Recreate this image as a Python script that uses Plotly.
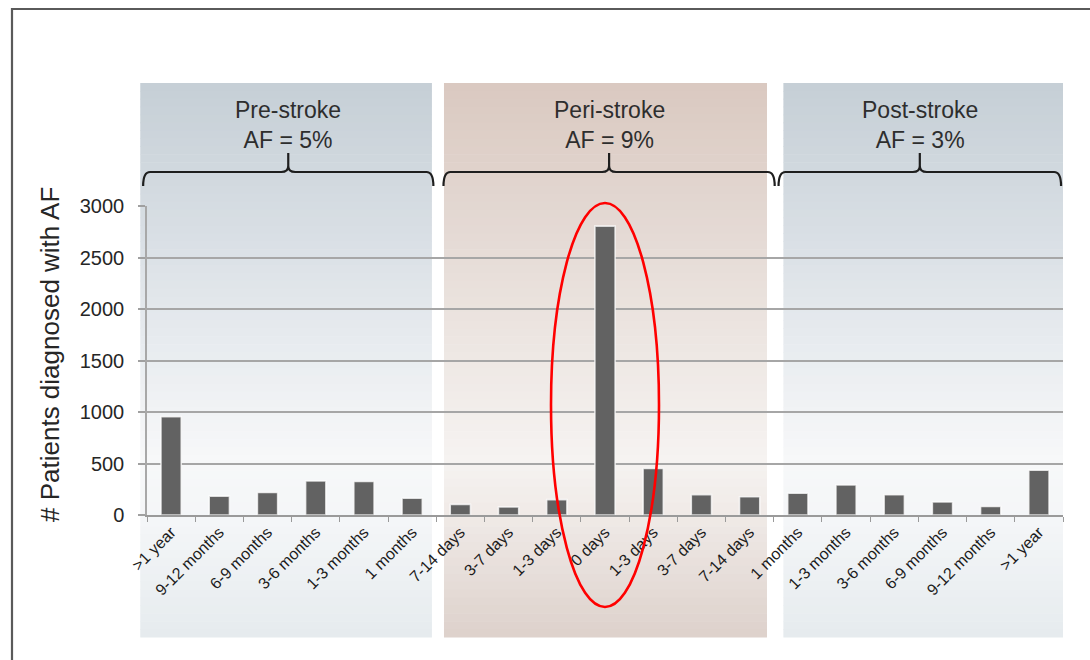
import plotly.graph_objects as go

# ---- data -------------------------------------------------------------
categories = [
    ">1 year", "9-12 months", "6-9 months", "3-6 months", "1-3 months", "1 months",
    "7-14 days", "3-7 days", "1-3 days", "0 days", "1-3 days", "3-7 days", "7-14 days",
    "1 months", "1-3 months", "3-6 months", "6-9 months", "9-12 months", ">1 year",
]
patients = [
    955, 183, 218, 330, 325, 163,
    103, 78, 149, 2805, 451, 198, 177,
    211, 292, 196, 126, 82, 434,
]
periods = ["Pre-stroke", "Peri-stroke", "Post-stroke"]
period_af = ["5%", "9%", "3%"]
y_ticks = [0, 500, 1000, 1500, 2000, 2500, 3000]

# ---- layout geometry (pixels) ----------------------------------------
W, H = 1090, 660
ML, MR, MT, MB = 147, 27, 206, 145
PW, PH = W - ML - MR, H - MT - MB
X_RANGE = (-0.5, len(categories) - 0.5)
Y_RANGE = (0, 3000)
FONT = "Liberation Sans, Arial, sans-serif"


def px_x(px):
    return (px - ML) / PW


def px_y(py):
    return (H - MB - py) / PH


def cat_x(v):
    return (v - X_RANGE[0]) / (X_RANGE[1] - X_RANGE[0])


def hex_rgb(h):
    h = h.lstrip("#")
    return [int(h[i:i + 2], 16) for i in (0, 2, 4)]


def blend(stops, py):
    for (y0, c0), (y1, c1) in zip(stops, stops[1:]):
        if y0 <= py <= y1:
            t = (py - y0) / (y1 - y0) if y1 > y0 else 0
            a, b = hex_rgb(c0), hex_rgb(c1)
            return "rgb(%d,%d,%d)" % tuple(round(a[i] + (b[i] - a[i]) * t) for i in range(3))
    return stops[-1][1]


blue_stops = [(83, "#c6cfd6"), (200, "#d4dbe1"), (330, "#e6eaee"), (460, "#f7f8f9"),
              (520, "#f4f6f8"), (637, "#e6ebee")]
brown_stops = [(83, "#dac9c0"), (200, "#e2d6d0"), (330, "#ece5e1"), (460, "#f6f3f1"),
               (520, "#efe9e6"), (637, "#ddd1cb")]
panel_stops = [blue_stops, brown_stops, blue_stops]
# panel horizontal extents in category units
panel_left = [-0.64, 5.66, 12.70]
panel_right = [5.41, 12.36, 18.50]
PANEL_TOP, PANEL_BOTTOM = 83, 637

shapes = []
n_strips = 70
for k in range(3):
    step = (PANEL_BOTTOM - PANEL_TOP) / n_strips
    for s in range(n_strips):
        y_top = PANEL_TOP + s * step
        y_bot = y_top + step + 0.6
        shapes.append(dict(
            type="rect", xref="paper", yref="paper", layer="below",
            x0=cat_x(panel_left[k]), x1=cat_x(panel_right[k]),
            y0=px_y(y_bot), y1=px_y(y_top),
            fillcolor=blend(panel_stops[k], y_top + step / 2), line=dict(width=0),
        ))

# curly braces above each period
brace_left = [-0.58, 5.65, 12.60]
brace_right = [5.44, 12.52, 18.46]
Y_LINE, Y_END, Y_TIP = 172, 186, 153
for k in range(3):
    x0, x1 = cat_x(brace_left[k]), cat_x(brace_right[k])
    xc = (x0 + x1) / 2
    r = 7 / PW
    yl, ye, yt = px_y(Y_LINE), px_y(Y_END), px_y(Y_TIP)
    ym = px_y(Y_LINE - 6)
    path = (f"M {x0},{ye} Q {x0},{yl} {x0 + r},{yl} L {xc - r},{yl} "
            f"Q {xc},{yl} {xc},{ym} L {xc},{yt} L {xc},{ym} Q {xc},{yl} {xc + r},{yl} "
            f"L {x1 - r},{yl} Q {x1},{yl} {x1},{ye}")
    shapes.append(dict(type="path", xref="paper", yref="paper", path=path,
                       line=dict(color="#1e1e1e", width=2.2), layer="above"))

# red ellipse around the peak bar
peak = patients.index(max(patients))
shapes.append(dict(
    type="circle", xref="paper", yref="paper", layer="above",
    x0=cat_x(peak - 1.12), x1=cat_x(peak + 1.12),
    y0=px_y(607), y1=px_y(203),
    line=dict(color="#ff0000", width=2.6), fillcolor="rgba(0,0,0,0)",
))

# outer frame
shapes.append(dict(type="rect", xref="paper", yref="paper", layer="above",
                   x0=px_x(12), x1=px_x(1200), y0=px_y(800), y1=px_y(9),
                   line=dict(color="#5a5a5a", width=2.2), fillcolor="rgba(0,0,0,0)"))

annotations = []
for k in range(3):
    xc = (cat_x(brace_left[k]) + cat_x(brace_right[k])) / 2
    annotations.append(dict(
        xref="paper", yref="paper", x=xc, y=px_y(125), showarrow=False,
        text=f"{periods[k]}<br>AF = {period_af[k]}",
        font=dict(size=23, color="#2e2e2e", family=FONT),
        xanchor="center", yanchor="middle", align="center",
    ))

annotations.append(dict(
    xref="paper", yref="paper", x=px_x(50), y=px_y(355), showarrow=False,
    text="# Patients diagnosed with AF", textangle=-90,
    font=dict(size=26, color="#262626", family=FONT),
    xanchor="center", yanchor="middle",
))

fig = go.Figure(go.Bar(
    x=list(range(len(categories))), y=patients, width=0.42,
    marker=dict(color="#626262", line=dict(color="rgba(255,255,255,0.75)", width=1.6)),
    showlegend=False,
))

fig.update_layout(
    width=W, height=H,
    margin=dict(l=ML, r=MR, t=MT, b=MB, pad=0),
    paper_bgcolor="white", plot_bgcolor="rgba(0,0,0,0)",
    shapes=shapes, annotations=annotations,
    font=dict(family=FONT, color="#2a2a2a"),
)
fig.update_xaxes(
    range=list(X_RANGE), tickmode="array",
    tickvals=list(range(len(categories))), ticktext=categories,
    tickangle=-45, ticks="", tickfont=dict(size=16, color="#1c1c1c"),
    showline=True, linecolor="#9a9a9a", linewidth=1.5, showgrid=False, zeroline=False,
    minor=dict(ticks="outside", tickmode="linear", tick0=-0.5, dtick=1,
               ticklen=5, tickcolor="#9a9a9a", tickwidth=1.2),
)
fig.update_yaxes(
    range=list(Y_RANGE), tickmode="array", tickvals=y_ticks,
    ticks="outside", ticklen=7, tickcolor="#a0a0a0", tickwidth=1.5,
    tickfont=dict(size=20, color="#262626"), ticklabelstandoff=10,
    showline=True, linecolor="#a8a8a8", linewidth=1.5,
    showgrid=True, gridcolor="#a6a6a6", gridwidth=1.6, zeroline=False,
)

fig.write_html("out.html")
